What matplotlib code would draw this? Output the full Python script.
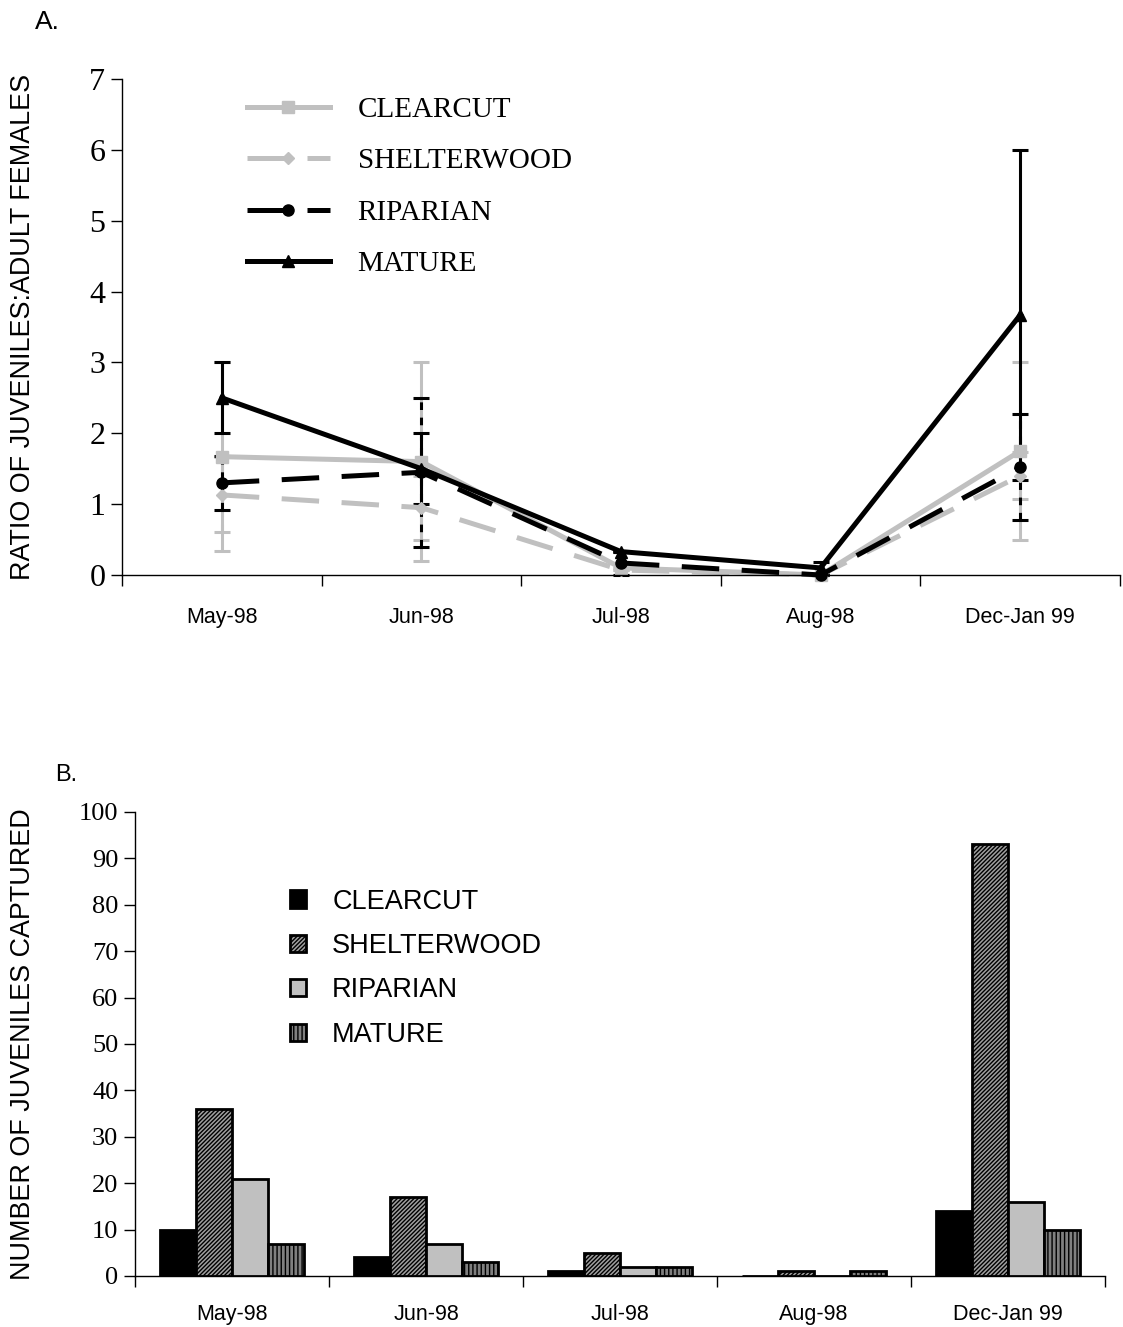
import numpy as np
import matplotlib
matplotlib.use("Agg")
import matplotlib.pyplot as plt
from matplotlib.lines import Line2D
from matplotlib.patches import Patch

# sampling periods
months = ['May-98', 'Jun-98', 'Jul-98', 'Aug-98', 'Dec-Jan 99']
habitats = ['CLEARCUT', 'SHELTERWOOD', 'RIPARIAN', 'MATURE']

# A. ratio of juveniles to adult females (mean and error)
ratio_clearcut = [1.67, 1.60, 0.10, 0.0, 1.75]
err_clearcut = [1.33, 1.40, 0.0, 0.0, 1.25]
ratio_shelterwood = [1.13, 0.95, 0.07, 0.0, 1.40]
err_shelterwood = [0.53, 0.45, 0.0, 0.0, 0.33]
ratio_riparian = [1.30, 1.45, 0.17, 0.0, 1.52]
err_riparian = [0.38, 1.05, 0.17, 0.0, 0.75]
ratio_mature = [2.50, 1.50, 0.33, 0.10, 3.67]
err_mature = [0.50, 0.50, 0.0, 0.08, 2.33]

# B. number of juveniles captured
n_clearcut = [10, 4, 1, 0, 14]
n_shelterwood = [36, 17, 5, 1, 93]
n_riparian = [21, 7, 2, 0, 16]
n_mature = [7, 3, 2, 1, 10]

GRAY = '#c0c0c0'
serif = 'Liberation Serif'
sans = 'Liberation Sans'
plt.rcParams['hatch.linewidth'] = 1.0

W, H = 1123, 1327
fig = plt.figure(figsize=(W / 100, H / 100), dpi=100)


def px_axes(left, top, right, bottom):
    return fig.add_axes([left / W, (H - bottom) / H, (right - left) / W, (bottom - top) / H])


def style_axes(ax, ytick_size, xpad):
    for s in ['top', 'right']:
        ax.spines[s].set_visible(False)
    for s in ['left', 'bottom']:
        ax.spines[s].set_linewidth(1.0)
    ax.set_xlim(0, 5)
    ax.set_xticks(np.arange(6))
    ax.set_xticklabels([])
    ax.set_xticks(np.arange(5) + 0.5, minor=True)
    ax.set_xticklabels(months, minor=True, fontfamily=sans, fontsize=15.5)
    ax.tick_params(axis='x', which='major', direction='out', length=8, width=1)
    ax.tick_params(axis='x', which='minor', length=0, pad=xpad)
    ax.tick_params(axis='y', direction='out', length=8, width=1, pad=4)
    for lab in ax.get_yticklabels():
        lab.set_fontfamily(serif)
        lab.set_fontsize(ytick_size)


# ---- panel A ----
ax1 = px_axes(122, 79, 1120, 575)
x = np.arange(5) + 0.5

series_a = [
    (ratio_clearcut, err_clearcut, GRAY, 'solid', 's', 8),
    (ratio_shelterwood, err_shelterwood, GRAY, 'dashed', 'D', 6),
    (ratio_riparian, err_riparian, 'black', 'dashed', 'o', 8),
    (ratio_mature, err_mature, 'black', 'solid', '^', 9),
]
handles = []
for (vals, errs, col, ls, mk, ms), name in zip(series_a, habitats):
    line, caps, bars = ax1.errorbar(x, vals, yerr=errs, color=col, lw=3.6, marker=mk, ms=ms,
                                    elinewidth=2.2, capsize=6, capthick=2.2, clip_on=False)
    if ls == 'dashed':
        line.set_dashes((7.5, 4.5))
        bars[0].set_linestyle((0, (2.5, 2.5)))
    h = Line2D([], [], color=col, lw=3.6, marker=mk, ms=ms)
    if ls == 'dashed':
        h.set_dashes((7.5, 4.5))
    handles.append(h)

ax1.set_ylim(0, 7)
ax1.set_yticks(range(8))
style_axes(ax1, 23, 23)
ax1.set_ylabel('RATIO OF JUVENILES:ADULT FEMALES', fontfamily=sans, fontsize=19.4)
ax1.yaxis.set_label_coords(-0.086, 0.5)

leg1 = ax1.legend(handles, habitats, loc='upper left', bbox_to_anchor=(0.125, 0.965),
                  frameon=False, numpoints=1, handlelength=2.85, handletextpad=0.95,
                  labelspacing=0.86, borderpad=0, borderaxespad=0,
                  prop={'family': serif, 'size': 21})

fig.text(35 / W, 1 - 22 / H, 'A.', fontfamily=sans, fontsize=19, va='center', ha='left')

# ---- panel B ----
ax2 = px_axes(135, 812, 1105, 1276)
bw = 0.185
offs = (np.arange(4) - 1.5) * bw
bar_styles = [
    dict(facecolor='black', hatch=None),
    dict(facecolor='#a0a0a0', hatch='////////'),
    dict(facecolor=GRAY, hatch=None),
    dict(facecolor='#808080', hatch='||||'),
]
counts = [n_clearcut, n_shelterwood, n_riparian, n_mature]
patches = []
for vals, off, st, name in zip(counts, offs, bar_styles, habitats):
    ax2.bar(x + off, vals, width=bw, edgecolor='black', linewidth=2.0, zorder=3, **st)
    patches.append(Patch(edgecolor='black', linewidth=2.0, **st))

ax2.set_ylim(0, 100)
ax2.set_yticks(range(0, 101, 10))
style_axes(ax2, 19, 20)
ax2.set_ylabel('NUMBER OF JUVENILES CAPTURED', fontfamily=sans, fontsize=19.4)
ax2.yaxis.set_label_coords(-0.102, 0.5)

ax2.legend(patches, habitats, loc='upper left', bbox_to_anchor=(0.16, 0.835),
           frameon=False, handlelength=0.6, handleheight=0.6, handletextpad=0.95,
           labelspacing=0.68, borderpad=0, borderaxespad=0,
           prop={'family': sans, 'size': 19.5})

fig.text(55 / W, 1 - 775 / H, 'B.', fontfamily=sans, fontsize=17, va='center', ha='left')

fig.savefig('out.png', dpi=100)
